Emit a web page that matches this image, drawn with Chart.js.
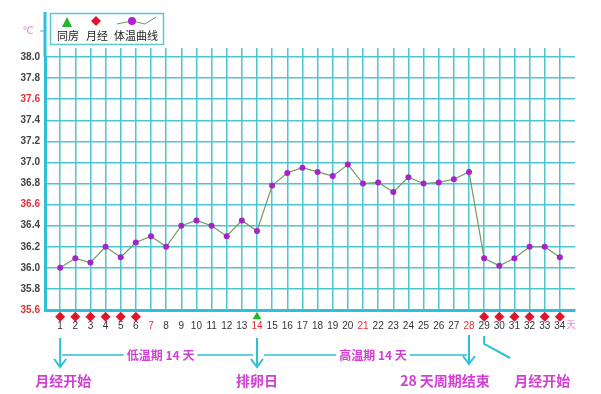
<!DOCTYPE html>
<html>
<head>
<meta charset="utf-8">
<script src="https://cdn.jsdelivr.net/npm/chart.js@4/dist/chart.umd.min.js"></script>
<style>
  body { margin: 0; background: #fff; }
  #wrap { width: 601px; height: 394px; position: relative; }
</style>
</head>
<body>
<div id="wrap"><canvas id="bbt"></canvas></div>
<script>
// 基础体温数据
const days = [1, 2, 3, 4, 5, 6, 7, 8, 9, 10, 11, 12, 13, 14, 15, 16, 17, 18, 19, 20, 21, 22, 23, 24, 25, 26, 27, 28, 29, 30, 31, 32, 33, 34];
const temps = [36.0, 36.09, 36.05, 36.2, 36.1, 36.24, 36.3, 36.2, 36.4, 36.45, 36.4, 36.3, 36.45, 36.35,
  36.78, 36.9, 36.95, 36.91, 36.87, 36.98, 36.8, 36.81, 36.72, 36.86, 36.8, 36.81, 36.84, 36.91,
  36.09, 36.02, 36.09, 36.2, 36.2, 36.1];
const mensesDays = [1, 2, 3, 4, 5, 6, 29, 30, 31, 32, 33, 34];
const sexDays = [14];
const markerLevel = 35.535;
const redDays = [7, 14, 21, 28];
const redTemps = [35.6, 36.6, 37.6];
const yMin = 35.6, yMax = 38.0, yStep = 0.2;

const teal = '#4cc6cf';
const axisColor = '#2ec0d6';
const pink = '#d23fd4';

const decor = {
  id: 'decor',
  afterDraw(chart) {
    const { ctx, chartArea } = chart;
    const x = chart.scales.x;
    ctx.save();

    // 左轴延长
    ctx.strokeStyle = axisColor;
    ctx.lineWidth = 3;
    ctx.beginPath();
    ctx.moveTo(chartArea.left, 12);
    ctx.lineTo(chartArea.left, chartArea.top);
    ctx.stroke();
    ctx.lineWidth = 1;
    ctx.beginPath();
    ctx.moveTo(chartArea.left - 5, 31);
    ctx.lineTo(chartArea.left, 31);
    ctx.stroke();

    ctx.fillStyle = '#e07ee0';
    ctx.font = '10px "DejaVu Sans"';
    ctx.textAlign = 'center';
    ctx.textBaseline = 'middle';
    ctx.fillText('℃', 28, 31);
    ctx.fillText('天', x.right - 4, 325);

    // 图例
    ctx.fillStyle = '#fff';
    ctx.fillRect(50, 13, 113, 31);
    ctx.strokeStyle = '#5cc8d2';
    ctx.lineWidth = 1.5;
    ctx.strokeRect(50.5, 13.5, 113, 31);

    ctx.fillStyle = '#22b82a';
    ctx.beginPath();
    ctx.moveTo(67, 17); ctx.lineTo(72, 27); ctx.lineTo(62, 27); ctx.closePath();
    ctx.fill();

    ctx.fillStyle = '#e0142c';
    ctx.beginPath();
    ctx.moveTo(96, 16); ctx.lineTo(101, 21); ctx.lineTo(96, 26); ctx.lineTo(91, 21); ctx.closePath();
    ctx.fill();

    ctx.strokeStyle = '#6f9a62';
    ctx.lineWidth = 1;
    ctx.beginPath();
    ctx.moveTo(117, 24); ctx.lineTo(132, 21); ctx.lineTo(145, 24); ctx.lineTo(156, 17);
    ctx.stroke();
    ctx.fillStyle = '#b41fd6';
    ctx.beginPath();
    ctx.arc(132, 21, 4, 0, Math.PI * 2);
    ctx.fill();

    ctx.fillStyle = '#222';
    ctx.font = '11px "Noto Sans CJK SC"';
    ctx.fillText('同房', 68, 36);
    ctx.fillText('月经', 97, 36);
    ctx.fillText('体温曲线', 136, 36);

    // 底部说明
    const x1 = x.getPixelForValue(1), x14 = x.getPixelForValue(14);
    const x28 = x.getPixelForValue(28), x29 = x.getPixelForValue(29);
    const lineY = 355;
    ctx.strokeStyle = axisColor;
    ctx.lineWidth = 2;
    function arrow(ax, top, bot) {
      ctx.beginPath();
      ctx.moveTo(ax, top); ctx.lineTo(ax, bot);
      ctx.moveTo(ax - 6, bot - 8); ctx.lineTo(ax, bot); ctx.lineTo(ax + 6, bot - 8);
      ctx.stroke();
    }
    arrow(x1, 338, 367);
    arrow(x14, 338, 367);
    arrow(x28, 335, 364);
    ctx.beginPath();
    ctx.moveTo(x29, 336); ctx.lineTo(x29, 344); ctx.lineTo(x29 + 26, 358);
    ctx.stroke();

    ctx.font = 'bold 12px "Noto Sans CJK SC"';
    function span(a, b, c, label) {
      const w = ctx.measureText(label).width;
      ctx.lineWidth = 1.5;
      ctx.beginPath();
      ctx.moveTo(a, lineY); ctx.lineTo(c - w / 2 - 3, lineY);
      ctx.moveTo(c + w / 2 + 3, lineY); ctx.lineTo(b, lineY);
      ctx.stroke();
      ctx.fillStyle = pink;
      ctx.fillText(label, c, lineY);
    }
    span(x1 + 2, x14 - 4, (x1 + x14) / 2 + 2, '低温期 14 天');
    span(x14 + 7, x28 - 2, (x14 + x28) / 2 + 10, '高温期 14 天');

    ctx.font = 'bold 14px "Noto Sans CJK SC"';
    ctx.fillStyle = pink;
    ctx.fillText('月经开始', x1 + 3, 381);
    ctx.fillText('排卵日', x14, 381);
    ctx.fillText('28 天周期结束', x28 - 24, 381);
    ctx.fillText('月经开始', x29 + 58, 381);
    ctx.restore();
  }
};

new Chart(document.getElementById('bbt'), {
  type: 'line',
  data: {
    datasets: [
      {
        label: '体温曲线',
        data: days.map((d, i) => ({ x: d, y: temps[i] })),
        borderColor: '#6f9a62',
        borderWidth: 1.2,
        pointRadius: 3,
        pointBackgroundColor: '#a424c8',
        pointBorderWidth: 0,
        tension: 0
      },
      {
        label: '月经',
        data: mensesDays.map(d => ({ x: d, y: markerLevel })),
        showLine: false,
        pointStyle: 'rectRot',
        pointRadius: 5,
        pointHoverRadius: 12,
        pointBackgroundColor: '#e0142c',
        pointBorderWidth: 0,
        clip: false
      },
      {
        label: '同房',
        data: sexDays.map(d => ({ x: d, y: markerLevel })),
        showLine: false,
        pointStyle: 'triangle',
        pointRadius: 5,
        pointHoverRadius: 12,
        pointBackgroundColor: '#22b82a',
        pointBorderWidth: 0,
        clip: false
      }
    ]
  },
  options: {
    responsive: true,
    maintainAspectRatio: false,
    animation: false,
    events: [],
    devicePixelRatio: 1,
    layout: { padding: { top: 48, right: 26, left: 0, bottom: 0 } },
    plugins: { legend: { display: false }, tooltip: { enabled: false } },
    scales: {
      x: {
        type: 'linear',
        min: 0,
        max: 35,
        afterBuildTicks: s => { s.ticks = days.map(d => ({ value: d })); },
        afterFit: s => { s.height = 84; },
        grid: { color: teal, lineWidth: 1.5, drawTicks: false },
        border: { color: axisColor, width: 3 },
        ticks: {
          padding: 10,
          autoSkip: false,
          maxRotation: 0,
          font: { family: 'Liberation Sans', size: 10 },
          color: c => redDays.includes(c.tick.value) ? '#e0303a' : '#333',
          callback: v => String(v)
        }
      },
      x2: {
        type: 'linear',
        position: 'top',
        min: 0,
        max: 35,
        afterBuildTicks: s => { s.ticks = days.map(d => ({ value: d })); },
        afterFit: s => { s.height = 9; },
        grid: { color: teal, lineWidth: 1.5, drawOnChartArea: false, tickLength: 9 },
        border: { display: false },
        ticks: { display: false }
      },
      y: {
        min: yMin,
        max: yMax,
        afterBuildTicks: s => {
          const t = [];
          for (let i = 0; i <= Math.round((yMax - yMin) / yStep); i++) t.push({ value: +(yMin + i * yStep).toFixed(1) });
          s.ticks = t;
        },
        afterFit: s => { s.width = 45; },
        grid: { color: teal, lineWidth: 1.5, drawTicks: false },
        border: { color: axisColor, width: 3 },
        ticks: {
          padding: 5,
          font: { family: 'Liberation Sans', size: 10, weight: 'bold' },
          color: c => redTemps.includes(c.tick.value) ? '#e0303a' : '#444',
          callback: v => Number(v).toFixed(1)
        }
      }
    }
  },
  plugins: [decor]
});
</script>
</body>
</html>
